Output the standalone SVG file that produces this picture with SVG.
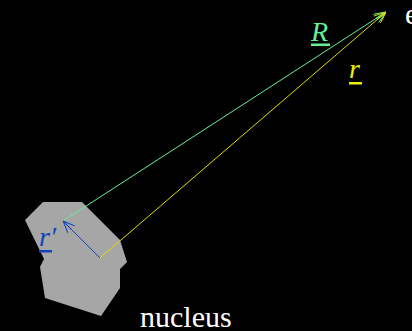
<svg xmlns="http://www.w3.org/2000/svg" width="412" height="331" viewBox="0 0 412 331">
<style>
.lbl{font-family:"Liberation Serif","Times New Roman",serif;font-style:italic;font-size:28px}
.txt{font-family:"Liberation Serif","Times New Roman",serif;fill:#ffffff;font-size:30px}
.ln{fill:none;stroke-width:1}
</style>
<defs>
<marker id="ag" viewBox="0 0 12 10" refX="12" refY="5" markerWidth="12" markerHeight="10" markerUnits="userSpaceOnUse" orient="auto"><path d="M0,0 L12,5 L0,10 M0,5 L12,5" fill="none" stroke="#66ee99" stroke-width="1"/></marker>
<marker id="ay" viewBox="0 0 12 10" refX="12" refY="5" markerWidth="12" markerHeight="10" markerUnits="userSpaceOnUse" orient="auto"><path d="M0,0 L12,5 L0,10 M0,5 L12,5" fill="none" stroke="#dddd00" stroke-width="1"/></marker>
<marker id="ab" viewBox="0 0 12 10" refX="12" refY="5" markerWidth="12" markerHeight="10" markerUnits="userSpaceOnUse" orient="auto"><path d="M0,0 L12,5 L0,10 M0,5 L12,5" fill="none" stroke="#1144bb" stroke-width="1"/></marker>
</defs>
<rect width="412" height="331" fill="#000"/>
<g id="nucleus">
<polygon points="43,202 82,202 120,240 127,262 120,269 120,288 101,316 45,298 40,267 44,259 25,220" fill="#a6a6a6"/>
<text class="txt" x="140" y="327">nucleus</text>
</g>
<g id="electron">
<text class="txt" x="405" y="24">e</text>
</g>
<g id="connectors">
<line class="ln" x1="63" y1="221" x2="386" y2="12" stroke="#66ee99" marker-end="url(#ag)"/>
<line class="ln" x1="100" y1="258" x2="386" y2="12" stroke="#dddd00" marker-end="url(#ay)"/>
<line class="ln" x1="100" y1="258" x2="63" y2="221" stroke="#1144bb" marker-end="url(#ab)"/>
</g>
<g id="labels">
<text class="lbl" x="311" y="41" fill="#66ee99">R</text>
<rect x="311" y="43.5" width="19" height="2.5" fill="#66ee99"/>
<text class="lbl" x="349" y="78" fill="#eeee00">r</text>
<rect x="349" y="82" width="13" height="2.5" fill="#eeee00"/>
<text class="lbl" x="39" y="246" fill="#1144bb" font-size="30">r′</text>
<rect x="39" y="250" width="13" height="2.5" fill="#1144bb"/>
</g>
</svg>
